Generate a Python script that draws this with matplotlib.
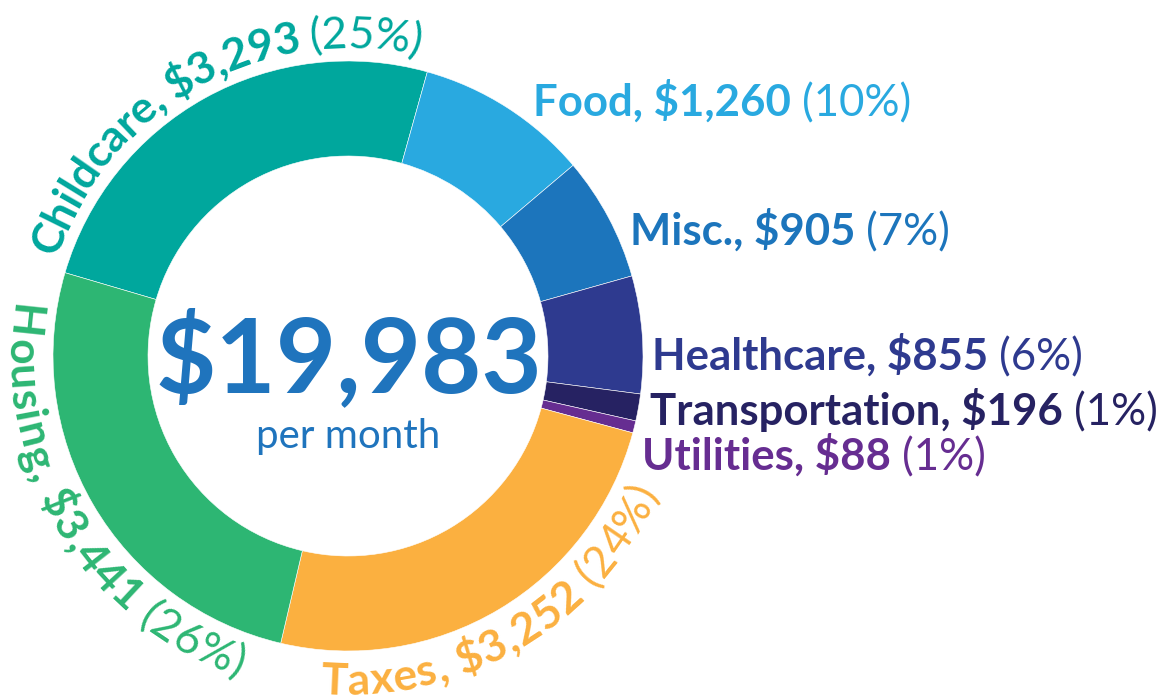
import numpy as np
import matplotlib
matplotlib.use('Agg')
import matplotlib.pyplot as plt
from matplotlib.font_manager import FontProperties

# monthly budget pieces (clockwise from the left edge of Childcare)
categories = ['Childcare', 'Food', 'Misc.', 'Healthcare', 'Transportation', 'Utilities', 'Taxes', 'Housing']
costs = [3293, 1260, 905, 855, 196, 88, 3252, 3441]
cost_labels = ['$3,293', '$1,260', '$905', '$855', '$196', '$88', '$3,252', '$3,441']
shares = ['(25%)', '(10%)', '(7%)', '(6%)', '(1%)', '(1%)', '(24%)', '(26%)']
colors = ['#00A79D', '#29A9E0', '#1C75BC', '#2E3A8F', '#262262', '#662D91', '#FBB040', '#2DB673']
total_text = '$19,983'
total_sub = 'per month'

FONT = 'Lato'
W, H = 1163, 700
fig = plt.figure(figsize=(W / 100, H / 100), dpi=100)
ax = fig.add_axes([0, 0, 1, 1])

# donut, 1 data unit = 1 pixel
cx, cy = 348, H - 356
R_out, ring = 295, 95
ax.pie(costs, colors=colors, startangle=163.6, counterclock=False, radius=R_out,
       center=(cx, cy), frame=True,
       wedgeprops=dict(width=ring, edgecolor='white', linewidth=0.4))
ax.set_xlim(0, W)
ax.set_ylim(0, H)
ax.set_aspect('auto')
ax.axis('off')

fig.canvas.draw()
rend = fig.canvas.get_renderer()


def adv(s, prop):
    # advance width of s in pixels (padded so spaces count)
    w1 = rend.get_text_width_height_descent('H' + s + 'H', prop, ismath=False)[0]
    w0 = rend.get_text_width_height_descent('HH', prop, ismath=False)[0]
    return w1 - w0


def flat_label(i, x, y_img, fs=31.5):
    pb = FontProperties(family=FONT, weight='bold', size=fs)
    pr = FontProperties(family=FONT, weight='normal', size=fs)
    head = categories[i] + ', ' + cost_labels[i]
    y = H - y_img
    ax.text(x, y, head, fontproperties=pb, color=colors[i], ha='left', va='baseline')
    ax.text(x + adv(head + ' ', pb), y, shares[i], fontproperties=pr,
            color=colors[i], ha='left', va='baseline')


def arc_label(i, r, th0, th1, outward, fs=32):
    # characters centred from angle th0 to th1 (degrees) on radius r
    pb = FontProperties(family=FONT, weight='bold', size=fs)
    pr = FontProperties(family=FONT, weight='normal', size=fs)
    chars = [(ch, pb) for ch in categories[i] + ', ' + cost_labels[i] + ' ']
    chars += [(ch, pr) for ch in shares[i]]
    widths = [adv(ch, p) for ch, p in chars]
    mids = np.cumsum(widths) - np.array(widths) / 2
    span = abs(np.radians(th1 - th0)) * r
    track = (span - (mids[-1] - mids[0])) / (len(chars) - 1)
    mids = mids - mids[0] + track * np.arange(len(chars))
    for (ch, p), m in zip(chars, mids):
        if ch == ' ':
            continue
        if outward:
            th = th0 - np.degrees(m / r)
            rot = th - 90
        else:
            th = th0 + np.degrees(m / r)
            rot = th + 90
        x = cx + r * np.cos(np.radians(th))
        y = cy + r * np.sin(np.radians(th))
        ax.text(x, y, ch, fontproperties=p, color=colors[i], rotation=rot,
                rotation_mode='anchor', ha='center', va='baseline')


# curved labels
arc_label(0, 308, 158.6, 77.8, True)
arc_label(7, 340, 174.0, 250.3, False)
arc_label(6, 339, 267.5, 335.2, False)

# straight labels on the right
flat_label(1, 533, 116)
flat_label(2, 630, 245)
flat_label(3, 652, 370)
flat_label(4, 650, 425)
flat_label(5, 642, 470)

# centre total
ax.text(349, H - 392, total_text, fontfamily=FONT, fontweight='bold', fontsize=75,
        color='#1F74BD', ha='center', va='baseline')
ax.text(348.5, H - 448, total_sub, fontfamily=FONT, fontweight='normal', fontsize=29,
        color='#1F74BD', ha='center', va='baseline')

fig.savefig('out.png', dpi=100)
